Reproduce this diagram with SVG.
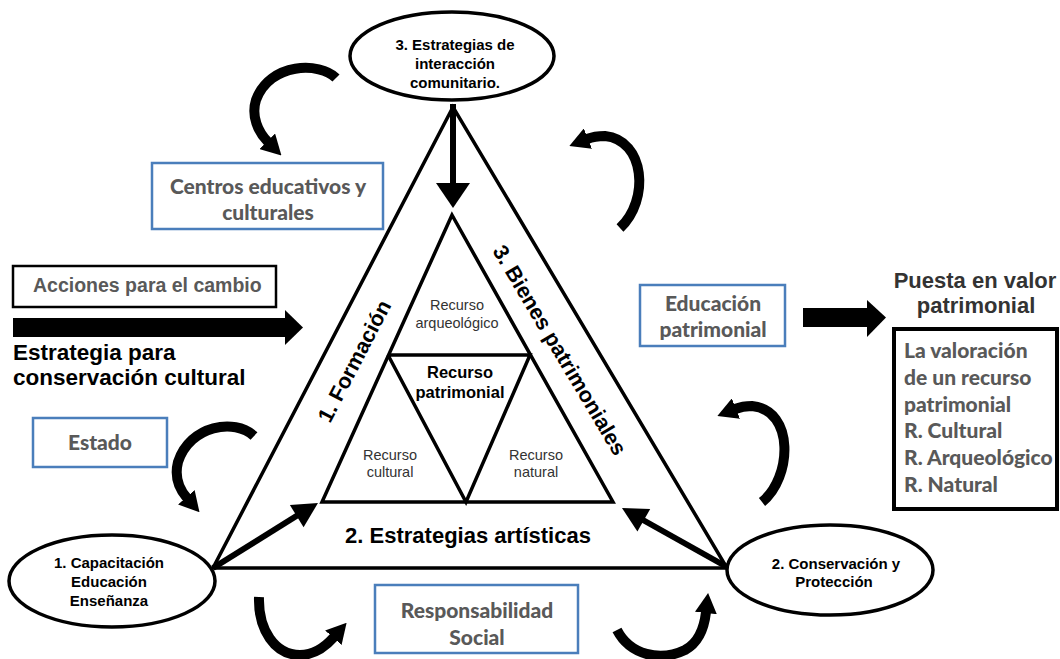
<svg xmlns="http://www.w3.org/2000/svg" width="1060" height="659" viewBox="0 0 1060 659">
<style>
.bx{fill:#fff;stroke:#4a7ebb;stroke-width:2.5}
.cal{font-family:Lato,"Open Sans",sans-serif;font-weight:900;fill:#595959;font-size:21px}
.ar{font-family:"Liberation Sans",Arial,sans-serif}
.b{font-weight:bold}
.ell{fill:#fff;stroke:#000;stroke-width:3.5}
.ln{fill:none;stroke:#000;stroke-width:3.5;stroke-linejoin:miter}
.cv{fill:none;stroke:#000;stroke-width:10;stroke-linecap:butt}
.thick{stroke:#000;stroke-width:6;fill:none}
</style>
<defs>
<marker id="ch" viewBox="0 0 20 22" refX="1" refY="11" markerWidth="20" markerHeight="22" markerUnits="userSpaceOnUse" orient="auto">
<path d="M0,0 L20,11 L0,22 z" fill="#000"/>
</marker>
</defs>
<rect width="1060" height="659" fill="#fff"/>

<g id="triangle">
<polygon class="ln" points="453,107 213,568 727,568"/>
<polygon class="ln" points="452,215 322,502 613,502"/>
<polyline class="ln" points="388,355 530,355 466,502 388,355"/>
</g>

<g id="connectors">
<line class="thick" x1="453" y1="104" x2="453" y2="185"/>
<polygon points="436,183 470,183 453,208" fill="#000"/>
<line class="thick" x1="213" y1="568" x2="298" y2="515"/>
<polygon points="318,503 303.6,527.2 289.9,505.1" fill="#000"/>
<line class="thick" x1="727" y1="567" x2="643" y2="520"/>
<polygon points="622,508 650.2,508.9 637.4,531.6" fill="#000"/>
<rect x="13" y="318" width="274" height="19" fill="#000"/>
<polygon points="285,310 303,327.5 285,345" fill="#000"/>
<rect x="803" y="308" width="66" height="19" fill="#000"/>
<polygon points="867,300 886,317.5 867,337" fill="#000"/>
<path class="cv" d="M336,78 C320,62 270,62 256,100 C251,116 258,132 268,142" marker-end="url(#ch)"/>
<path class="cv" d="M620,228 C650,200 645,140 605,136 C598,136 592,137 587,139" marker-end="url(#ch)"/>
<path class="cv" d="M254,436 C235,418 190,425 178,462 C174,478 180,490 187,498" marker-end="url(#ch)"/>
<path class="cv" d="M762,502 C792,478 795,410 752,406 C746,406 740,407 735,409" marker-end="url(#ch)"/>
<path class="cv" d="M259,597 C258,630 275,655 300,655 C315,655 326,646 334,637" marker-end="url(#ch)"/>
<path class="cv" d="M617,630 C630,655 660,662 685,650 C698,643 704,630 706,612" marker-end="url(#ch)"/>
</g>

<g id="n-top">
<ellipse class="ell" cx="452" cy="56" rx="102" ry="44"/>
<text class="ar b" font-size="15" text-anchor="middle" x="455"><tspan x="455" y="50">3. Estrategias de</tspan><tspan x="455" y="69">interacción</tspan><tspan x="455" y="88">comunitario.</tspan></text>
</g>
<g id="n-left">
<ellipse class="ell" cx="112" cy="581" rx="103" ry="46"/>
<text class="ar b" font-size="15" text-anchor="middle"><tspan x="109" y="568">1. Capacitación</tspan><tspan x="109" y="587">Educación</tspan><tspan x="109" y="606">Enseñanza</tspan></text>
</g>
<g id="n-right">
<ellipse class="ell" cx="830" cy="570" rx="103" ry="45"/>
<text class="ar b" font-size="15" text-anchor="middle"><tspan x="836" y="569">2. Conservación y</tspan><tspan x="834" y="587">Protección</tspan></text>
</g>

<g id="centros">
<rect class="bx" x="152" y="163" width="231" height="66"/>
<text class="cal" text-anchor="middle"><tspan x="268" y="194">Centros educativos y</tspan><tspan x="268" y="220">culturales</tspan></text>
</g>
<g id="acciones">
<rect x="13" y="266" width="263" height="41" fill="#fff" stroke="#000" stroke-width="2.5"/>
<text class="ar b" font-size="19.5" fill="#595959" x="33" y="292">Acciones para el cambio</text>
</g>
<g id="estrategia">
<text class="ar b" font-size="22.5" fill="#000"><tspan x="13" y="360">Estrategia para</tspan><tspan x="13" y="385">conservación cultural</tspan></text>
</g>
<g id="estado">
<rect class="bx" x="33" y="418" width="134" height="49"/>
<text class="cal" text-anchor="middle" x="100" y="450">Estado</text>
</g>
<g id="responsabilidad">
<rect class="bx" x="375" y="585" width="203" height="68"/>
<text class="cal" text-anchor="middle"><tspan x="477" y="618">Responsabilidad</tspan><tspan x="477" y="645">Social</tspan></text>
</g>
<g id="educacion">
<rect class="bx" x="640" y="285" width="145" height="61"/>
<text class="cal" text-anchor="middle"><tspan x="713" y="311">Educación</tspan><tspan x="713" y="337">patrimonial</tspan></text>
</g>
<g id="puesta">
<text class="ar b" font-size="22" fill="#333" text-anchor="middle"><tspan x="975" y="288">Puesta en valor</tspan><tspan x="976" y="313">patrimonial</tspan></text>
</g>
<g id="valoracion">
<rect x="894" y="329" width="163" height="180" fill="#fff" stroke="#000" stroke-width="4"/>
<text class="cal" font-size="20"><tspan x="904" y="358">La valoración</tspan><tspan x="904" y="385">de un recurso</tspan><tspan x="904" y="412">patrimonial</tspan><tspan x="904" y="438">R. Cultural</tspan><tspan x="904" y="465">R. Arqueológico</tspan><tspan x="904" y="492">R. Natural</tspan></text>
</g>

<g id="labels">
<text class="ar b" font-size="21.5" text-anchor="middle" transform="translate(354,361) rotate(-62.5)" x="0" y="7.7">1. Formación</text>
<text class="ar b" font-size="21.5" text-anchor="middle" transform="translate(560,350) rotate(59.2)" x="0" y="7.7">3. Bienes patrimoniales</text>
<text class="ar b" font-size="22" text-anchor="middle" x="468" y="543">2. Estrategias artísticas</text>
<text class="ar" font-size="14.5" fill="#333" text-anchor="middle"><tspan x="457" y="310">Recurso</tspan><tspan x="457" y="328">arqueológico</tspan></text>
<text class="ar b" font-size="16.5" text-anchor="middle"><tspan x="460" y="378">Recurso</tspan><tspan x="460" y="398">patrimonial</tspan></text>
<text class="ar" font-size="14.5" fill="#333" text-anchor="middle"><tspan x="390" y="460">Recurso</tspan><tspan x="390" y="477">cultural</tspan></text>
<text class="ar" font-size="14.5" fill="#333" text-anchor="middle"><tspan x="536" y="460">Recurso</tspan><tspan x="536" y="477">natural</tspan></text>
</g>
</svg>
